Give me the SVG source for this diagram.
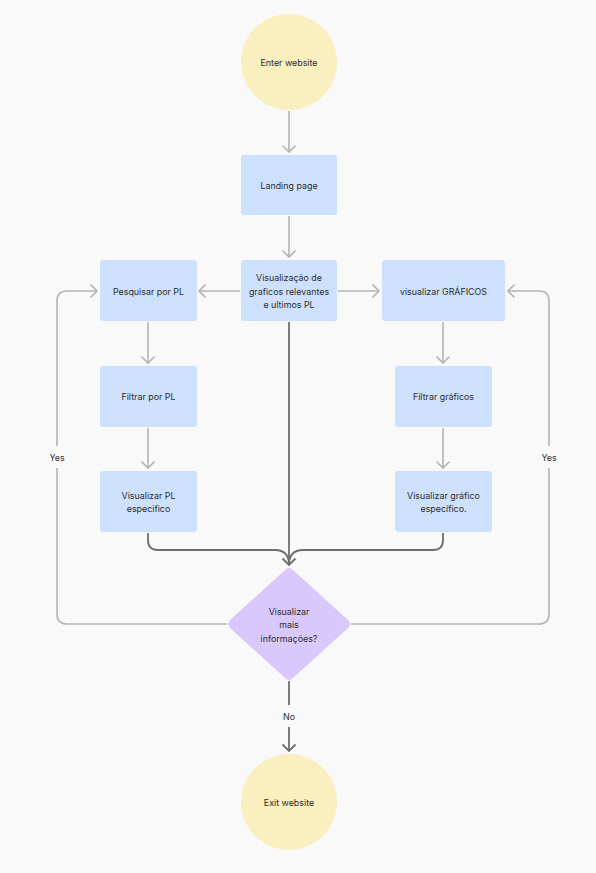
<svg xmlns="http://www.w3.org/2000/svg" width="596" height="873" viewBox="0 0 596 873">
<style>
text{font-family:Inter,"Noto Sans","Liberation Sans",sans-serif;font-size:8.9px;fill:#2d2d2d;text-anchor:middle;dominant-baseline:central}
.box{fill:#cde1fd}
.circ{fill:#f9efbf}
.dia{fill:#d8c8fb}
.lg{fill:none;stroke:#b4b4b4;stroke-width:1.6}
.ld{fill:none;stroke:#6e6e6e;stroke-width:1.8}
</style>
<defs>
<marker id="ag" markerUnits="userSpaceOnUse" viewBox="-8 -8 10 16" refX="0" refY="0" markerWidth="10" markerHeight="16" orient="auto"><path d="M-6.5,-6.5 L0,0 L-6.5,6.5" fill="none" stroke="#b4b4b4" stroke-width="1.6"/></marker>
<marker id="ad" markerUnits="userSpaceOnUse" viewBox="-8 -8 10 16" refX="0" refY="0" markerWidth="10" markerHeight="16" orient="auto"><path d="M-6.5,-6.5 L0,0 L-6.5,6.5" fill="none" stroke="#6e6e6e" stroke-width="1.8"/></marker>
</defs>
<rect width="596" height="873" fill="#f9f9f9"/>
<g id="connectors">
<path class="lg" d="M289 111 V152" marker-end="url(#ag)"/>
<path class="lg" d="M289 216 V257" marker-end="url(#ag)"/>
<path class="lg" d="M240 291 H199" marker-end="url(#ag)"/>
<path class="lg" d="M338 291 H379" marker-end="url(#ag)"/>
<path class="lg" d="M148 322 V363" marker-end="url(#ag)"/>
<path class="lg" d="M148 428 V468" marker-end="url(#ag)"/>
<path class="lg" d="M443 322 V363" marker-end="url(#ag)"/>
<path class="lg" d="M443 428 V468" marker-end="url(#ag)"/>
<path class="ld" d="M289 322 V565" marker-end="url(#ad)"/>
<path class="ld" d="M148 533 V540 Q148 550 158 550 H275 Q289 550 289 565"/>
<path class="ld" d="M443 533 V540 Q443 550 433 550 H303 Q289 550 289 565"/>
<path class="lg" d="M227 624 H67 Q57 624 57 614 V468"/>
<path class="lg" d="M57 446 V301 Q57 291 67 291 H97" marker-end="url(#ag)"/>
<path class="lg" d="M351 624 H539 Q549 624 549 614 V468"/>
<path class="lg" d="M549 446 V301 Q549 291 539 291 H508" marker-end="url(#ag)"/>
<text x="57" y="457">Yes</text>
<text x="549" y="457">Yes</text>
<path class="ld" d="M289 681 V705"/>
<text x="289" y="716">No</text>
<path class="ld" d="M289 727 V751" marker-end="url(#ad)"/>
</g>
<g id="enter"><circle class="circ" cx="289" cy="62" r="48"/><text x="289" y="62">Enter website</text></g>
<g id="landing"><rect class="box" x="241" y="155" width="96" height="60" rx="3"/><text x="289" y="185">Landing page</text></g>
<g id="visualizacao"><rect class="box" x="241" y="260" width="96" height="61" rx="3"/><text x="289" y="277.5">Visualização de</text><text x="289" y="291">graficos relevantes</text><text x="289" y="304.5">e ultimos PL</text></g>
<g id="pesquisar"><rect class="box" x="100" y="260" width="97" height="61" rx="3"/><text x="148.5" y="291">Pesquisar por PL</text></g>
<g id="graficos"><rect class="box" x="382" y="260" width="123" height="61" rx="3"/><text x="443.5" y="291">visualizar GRÁFICOS</text></g>
<g id="filtrarpl"><rect class="box" x="100" y="366" width="97" height="61" rx="3"/><text x="148.5" y="396.5">Filtrar por PL</text></g>
<g id="filtrargraf"><rect class="box" x="395" y="366" width="97" height="61" rx="3"/><text x="443.5" y="396.5">Filtrar gráficos</text></g>
<g id="vispl"><rect class="box" x="100" y="471" width="97" height="61" rx="3"/><text x="148.5" y="495">Visualizar PL</text><text x="148.5" y="508.5">especifico</text></g>
<g id="visgraf"><rect class="box" x="395" y="471" width="97" height="61" rx="3"/><text x="443.5" y="495">Visualizar gráfico</text><text x="443.5" y="508.5">específico.</text></g>
<g id="decision"><path class="dia" d="M285 570 Q289 566 293 570 L348 620 Q352 624 348 628 L293 678 Q289 682 285 678 L230 628 Q226 624 230 620 Z"/><text x="289" y="611">Visualizar</text><text x="289" y="624.5">mais</text><text x="289" y="638">informações?</text></g>
<g id="exit"><circle class="circ" cx="289" cy="802" r="48"/><text x="289" y="802">Exit website</text></g>
</svg>
